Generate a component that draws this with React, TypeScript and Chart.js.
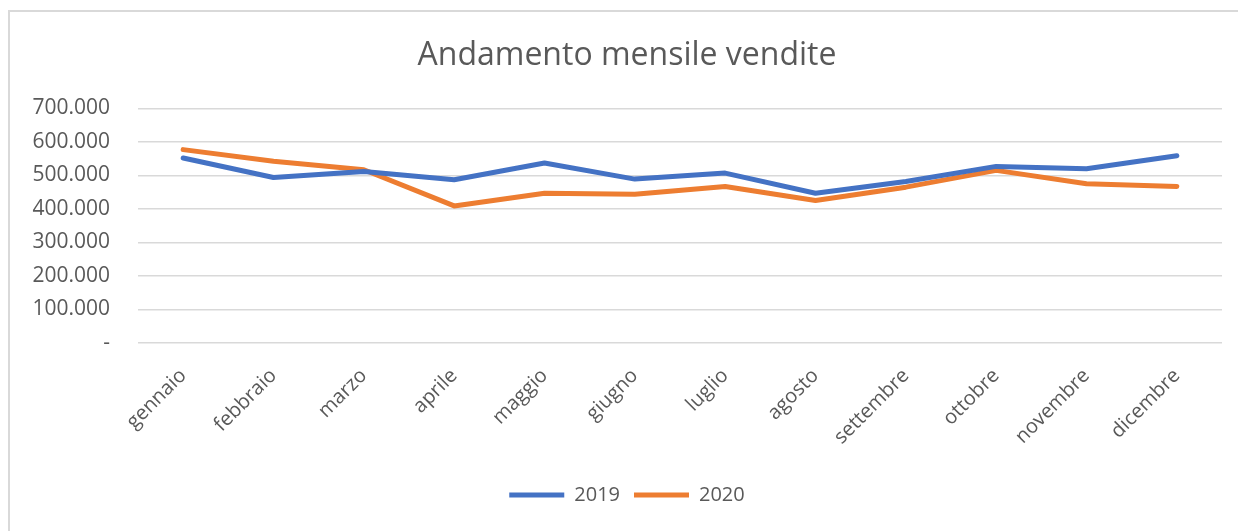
import React, { useEffect, useRef } from "react";
import { Chart, registerables } from "chart.js";

Chart.register(...registerables);

const months = [
  "gennaio", "febbraio", "marzo", "aprile", "maggio", "giugno",
  "luglio", "agosto", "settembre", "ottobre", "novembre", "dicembre",
];
const sales2019 = [552000, 494000, 512000, 487000, 537000, 489000, 507000, 447000, 482000, 527000, 520000, 559000];
const sales2020 = [577000, 542000, 517000, 409000, 447000, 444000, 467000, 425000, 465000, 515000, 475000, 467000];
const yMax = 700000;
const yStep = 100000;

const FONT = "'Open Sans', sans-serif";
const TEXT = "#595959";

function fmt(v: number): string {
  if (v === 0) return "-";
  const s = Math.round(v).toString();
  return s.replace(/\B(?=(\d{3})+(?!\d))/g, ".");
}

export default function App() {
  const ref = useRef<HTMLCanvasElement | null>(null);
  useEffect(() => {
    if (!ref.current) return;
    const chart = new Chart(ref.current, {
      type: "line",
      data: {
        labels: months,
        datasets: [
          {
            label: "2019",
            data: sales2019,
            borderColor: "#4472C4",
            backgroundColor: "#4472C4",
            borderWidth: 5,
            pointRadius: 0,
            borderCapStyle: "round",
            borderJoinStyle: "round",
            tension: 0,
          },
          {
            label: "2020",
            data: sales2020,
            borderColor: "#ED7D31",
            backgroundColor: "#ED7D31",
            borderWidth: 5,
            pointRadius: 0,
            borderCapStyle: "round",
            borderJoinStyle: "round",
            tension: 0,
          },
        ],
      },
      options: {
        animation: false,
        responsive: false,
        maintainAspectRatio: false,
        layout: { padding: { left: 22, right: 16, top: 0, bottom: 16 } },
        plugins: {
          title: {
            display: true,
            text: "Andamento mensile vendite",
            color: TEXT,
            font: { family: FONT, size: 32, weight: "normal" },
            padding: { top: 25, bottom: 33 },
          },
          legend: {
            position: "bottom",
            labels: {
              color: TEXT,
              font: { family: FONT, size: 20 },
              usePointStyle: true,
              pointStyle: "line",
              pointStyleWidth: 55,
              boxWidth: 55,
              boxHeight: 5,
              padding: 14,
            },
          },
          tooltip: { enabled: false },
        },
        scales: {
          x: {
            offset: true,
            grid: { display: false, drawTicks: false },
            border: { display: false },
            ticks: {
              color: TEXT,
              font: { family: FONT, size: 20 },
              maxRotation: 45,
              minRotation: 45,
              padding: 21,
            },
            afterFit: (s: any) => {
              s.height = 128;
              s.paddingLeft = 0;
              s.paddingRight = 0;
            },
          },
          y: {
            min: 0,
            max: yMax,
            grid: { color: "#d9d9d9", lineWidth: 1.5, drawTicks: false },
            border: { display: false },
            ticks: {
              stepSize: yStep,
              color: TEXT,
              font: { family: FONT, size: 21 },
              padding: 28,
              callback: (v: any) => fmt(Number(v)),
            },
            afterFit: (s: any) => {
              s.width = 106;
            },
          },
        },
      },
    });
    return () => chart.destroy();
  }, []);
  return (
    <div
      style={{
        position: "fixed",
        left: 8,
        top: 10,
        width: 1240,
        height: 530,
        borderTop: "2px solid #d9d9d9",
        borderLeft: "2px solid #d9d9d9",
        background: "#fff",
      }}
    >
      <canvas ref={ref} width={1228} height={519} style={{ display: "block" }} />
    </div>
  );
}
